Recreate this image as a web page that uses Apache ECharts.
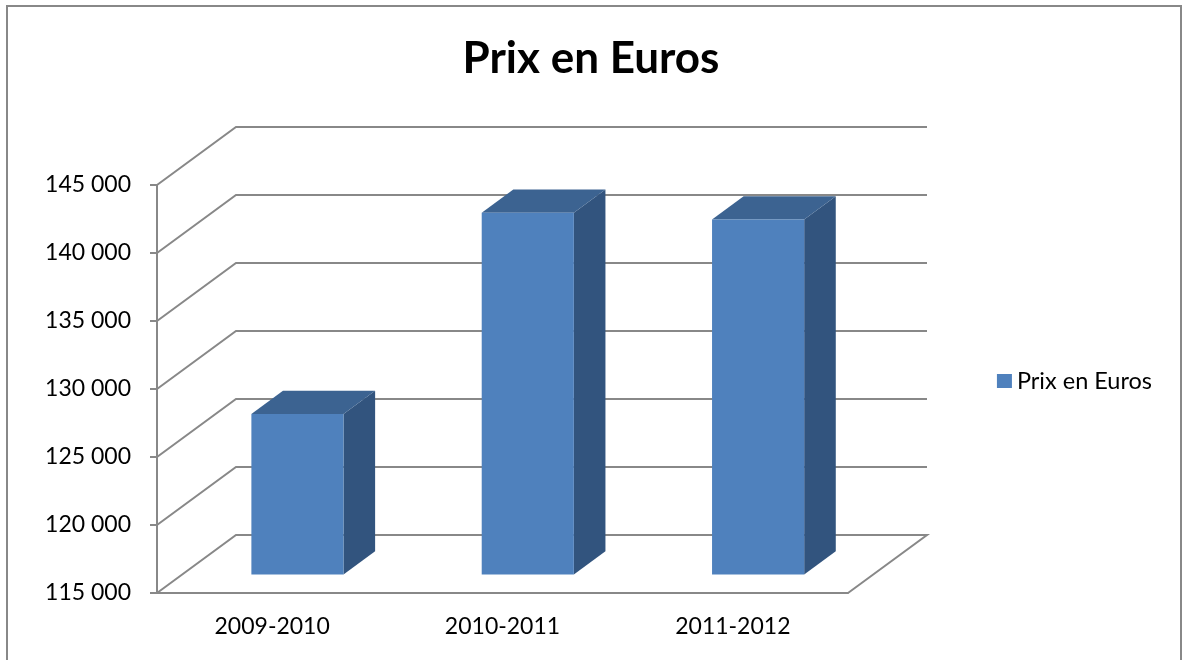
<!DOCTYPE html>
<html>
<head>
<meta charset="utf-8">
<script src="https://cdn.jsdelivr.net/npm/echarts@6/dist/echarts.min.js"></script>
<style>
  html, body { margin: 0; padding: 0; background: #fff; }
  #container { width: 1182px; height: 660px; }
</style>
</head>
<body>
<div id="container"></div>
<script>
var categories = ['2009-2010', '2010-2011', '2011-2012'];
var prix = [126800, 141600, 141100];
var yTicks = [115000, 120000, 125000, 130000, 135000, 140000, 145000];
var seriesName = 'Prix en Euros';

// perspective of the "3D" box, in pixels
var DX = 79, DY = -58;
var BAR_DEPTH0 = 0.32, BAR_DEPTH = 0.4, BAR_WIDTH = 0.4;
var gridColor = '#888888';

function fmt(v) {
    return String(v).replace(/\B(?=(\d{3})+(?!\d))/g, ' ');
}

var dom = document.getElementById('container');
var myChart = echarts.init(dom);
var option = {
    backgroundColor: '#fff',
    animation: false,
    textStyle: { fontFamily: 'Lato' },
    title: {
        text: 'Prix en Euros',
        left: 'center',
        top: 32,
        textStyle: { fontFamily: 'Lato', fontWeight: 'bold', fontSize: 44, color: '#000' }
    },
    legend: {
        data: [seriesName],
        right: 25,
        top: 364,
        icon: 'rect',
        itemWidth: 15,
        itemHeight: 14,
        itemGap: 6,
        textStyle: { fontFamily: 'Lato', fontSize: 23.5, color: '#000' }
    },
    graphic: [{
        type: 'rect',
        shape: { x: 7, y: 6, width: 1174, height: 700 },
        style: { fill: 'none', stroke: gridColor, lineWidth: 2 },
        silent: true
    }],
    grid: { left: 157, top: 185, width: 691, height: 408 },
    xAxis: {
        type: 'category',
        data: categories,
        boundaryGap: true,
        axisLine: { lineStyle: { color: gridColor, width: 2 } },
        axisTick: { length: 7, lineStyle: { color: gridColor, width: 2 } },
        axisLabel: { margin: 22, fontSize: 23, color: '#000', fontFamily: 'Lato' },
        splitLine: { show: false }
    },
    yAxis: {
        type: 'value',
        min: 115000,
        max: 145000,
        interval: 5000,
        axisLine: { show: true, lineStyle: { color: gridColor, width: 2 } },
        axisTick: { show: true, length: 7, lineStyle: { color: gridColor, width: 2 } },
        axisLabel: { margin: 26, fontSize: 23, color: '#000', fontFamily: 'Lato', formatter: fmt },
        splitLine: { show: false }
    },
    series: [{
        type: 'custom',
        name: 'grid3d',
        silent: true,
        data: yTicks.map(function (v) { return [0, v]; }),
        renderItem: function (params, api) {
            var cs = params.coordSys;
            var y = api.coord([0, api.value(1)])[1];
            var left = cs.x, right = cs.x + cs.width;
            var pts = [[left, y], [left + DX, y + DY], [right + DX, y + DY]];
            if (api.value(1) === yTicks[0]) {
                pts.push([right, y]);
            }
            return {
                type: 'polyline',
                shape: { points: pts },
                style: { fill: 'none', stroke: gridColor, lineWidth: 2 }
            };
        }
    }, {
        type: 'custom',
        name: seriesName,
        itemStyle: { color: '#4F81BD' },
        data: prix.map(function (v, i) { return [i, v]; }),
        renderItem: function (params, api) {
            var c = api.coord([api.value(0), yTicks[0]]);
            var t = api.coord([api.value(0), api.value(1)]);
            var band = api.size([1, 0])[0];
            var w = band * BAR_WIDTH;
            var fx = c[0] - w / 2 + BAR_DEPTH0 * DX;
            var baseY = c[1] + BAR_DEPTH0 * DY;
            var topY = t[1] + BAR_DEPTH0 * DY;
            var bx = BAR_DEPTH * DX, by = BAR_DEPTH * DY;
            return {
                type: 'group',
                children: [{
                    type: 'polygon',
                    shape: { points: [[fx + w, topY], [fx + w + bx, topY + by], [fx + w + bx, baseY + by], [fx + w, baseY]] },
                    style: { fill: '#32547E' }
                }, {
                    type: 'polygon',
                    shape: { points: [[fx, topY], [fx + w, topY], [fx + w + bx, topY + by], [fx + bx, topY + by]] },
                    style: { fill: '#3C6391' }
                }, {
                    type: 'rect',
                    shape: { x: fx, y: topY, width: w, height: baseY - topY },
                    style: { fill: '#4F81BD' }
                }]
            };
        }
    }]
};
myChart.setOption(option);
</script>
</body>
</html>
